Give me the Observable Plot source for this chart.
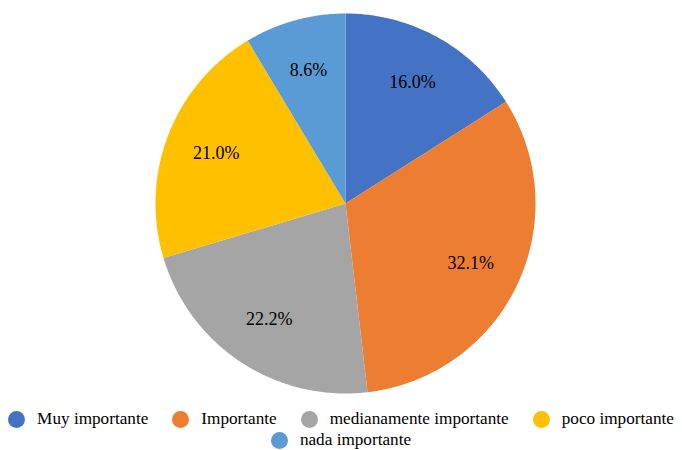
<!DOCTYPE html>
<html><head><meta charset="utf-8">
<script src="https://cdn.jsdelivr.net/npm/d3@7"></script>
<script src="https://cdn.jsdelivr.net/npm/@observablehq/plot@0.6"></script>
<style>
body{margin:0;background:#fff;font-family:'Liberation Serif',serif;}
#legend{width:682px;box-sizing:border-box;display:flex;flex-wrap:wrap;justify-content:center;column-gap:24px;row-gap:3px;font-size:17.2px;line-height:18px;color:#000;margin-top:10px;font-family:'Liberation Serif',serif;}
.item{display:flex;align-items:center;gap:12px;}
.sw{width:17px;height:17px;border-radius:50%;flex:none;}
</style></head>
<body>
<div id="chart"></div>
<div id="legend"></div>
<script>
const categories = ["Muy importante","Importante","medianamente importante","poco importante","nada importante"];
const values = [16.0, 32.1, 22.2, 21.0, 8.6];
const labels = ["16.0%","32.1%","22.2%","21.0%","8.6%"];
const colors = ["#4472C4","#ED7D31","#A5A5A5","#FFC000","#5B9BD5"];

const R = 190;
const pie = d3.pie().sort(null).value(d => d.value)(categories.map((c,i)=>({cat:c,value:values[i],label:labels[i]})));
const wedgePts = [];
const labelPts = [];
for (const a of pie) {
  const n = Math.max(2, Math.ceil((a.endAngle - a.startAngle) / 0.01));
  wedgePts.push({cat:a.data.cat, x:0, y:0});
  for (let k=0;k<=n;k++){
    const t = a.startAngle + (a.endAngle - a.startAngle)*k/n;
    wedgePts.push({cat:a.data.cat, x:R*Math.sin(t), y:R*Math.cos(t)});
  }
  wedgePts.push({cat:a.data.cat, x:0, y:0});
  const m = (a.startAngle + a.endAngle)/2;
  labelPts.push({label:a.data.label, x:0.73*R*Math.sin(m), y:0.73*R*Math.cos(m)});
}

const W = 682, H = 400, cx = 345, cy = 203;
const chart = Plot.plot({
  width: W, height: H,
  margin: 0,
  style: {fontFamily: "'Liberation Serif', serif", background:"#fff", display:"block"},
  x: {domain:[-cx, W-cx], axis:null},
  y: {domain:[cy-H, cy], axis:null},
  color: {domain: categories, range: colors},
  marks: [
    Plot.line(wedgePts, {x:"x", y:"y", z:"cat", fill:"cat", stroke:"none", curve:"linear"}),
    Plot.text(labelPts, {x:"x", y:"y", text:"label", fontSize:18, fill:"#000", fontFamily:"Liberation Serif"})
  ]
});
document.getElementById("chart").appendChild(chart);

const leg = document.getElementById("legend");
categories.forEach((c,i)=>{
  const it = document.createElement("div"); it.className="item";
  const sw = document.createElement("span"); sw.className="sw"; sw.style.background=colors[i];
  const tx = document.createElement("span"); tx.textContent=c;
  it.appendChild(sw); it.appendChild(tx); leg.appendChild(it);
});
</script>
</body></html>
